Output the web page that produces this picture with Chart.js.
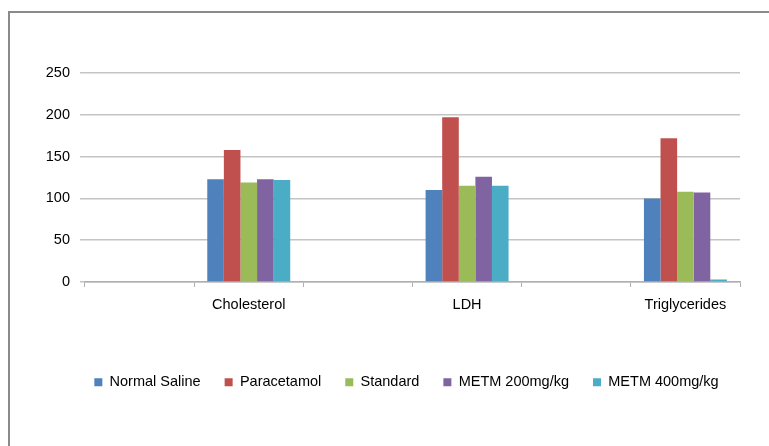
<!DOCTYPE html>
<html>
<head>
<meta charset="utf-8">
<script src="https://cdn.jsdelivr.net/npm/chart.js@4"></script>
<style>
  html, body { margin: 0; padding: 0; background: #fff; }
  canvas { display: block; }
</style>
</head>
<body>
<canvas id="grafico" width="769" height="446"></canvas>
<script>
const ctx = document.getElementById('grafico').getContext('2d');

// every other slot is left empty so the groups sit in alternate columns
const categorias = ['', 'Cholesterol', '', 'LDH', '', 'Triglycerides'];
const normalSaline = [null, 123, null, 110, null, 100];
const paracetamol = [null, 158, null, 197, null, 172];
const standard = [null, 119, null, 115, null, 108];
const metm200 = [null, 123, null, 126, null, 107];
const metm400 = [null, 122, null, 115, null, 3];
const ticksY = [0, 50, 100, 150, 200, 250];

const fuente = "'Liberation Sans', Arial, sans-serif";

// grey frame round the whole chart
const marco = {
  id: 'marco',
  beforeDraw(chart) {
    const c = chart.ctx;
    c.save();
    c.fillStyle = '#fff';
    c.fillRect(0, 0, chart.width, chart.height);
    c.fillStyle = '#8a8a8a';
    c.fillRect(8, 11, chart.width - 8, 2);
    c.fillRect(8, 11, 2, chart.height - 11);
    c.restore();
  }
};

// legend row sits roughly under the plot rather than the whole canvas
const moverLeyenda = {
  id: 'moverLeyenda',
  afterLayout(chart) {
    const area = chart.chartArea;
    const leg = chart.legend;
    const dx = (area.left + area.right) / 2 - 6 - (leg.left + leg.right) / 2;
    leg.left += dx;
    leg.right += dx;
  }
};

const myChart = new Chart(ctx, {
  type: 'bar',
  data: {
    labels: categorias,
    datasets: [
      { label: 'Normal Saline', data: normalSaline, backgroundColor: '#4F81BD' },
      { label: 'Paracetamol', data: paracetamol, backgroundColor: '#C0504D' },
      { label: 'Standard', data: standard, backgroundColor: '#9BBB59' },
      { label: 'METM 200mg/kg', data: metm200, backgroundColor: '#8064A2' },
      { label: 'METM 400mg/kg', data: metm400, backgroundColor: '#4BACC6' }
    ]
  },
  options: {
    responsive: false,
    animation: false,
    categoryPercentage: 0.76,
    barPercentage: 1,
    layout: { padding: { left: 40, right: 29, top: 73, bottom: 46.5 } },
    plugins: {
      tooltip: { enabled: false },
      legend: {
        position: 'bottom',
        labels: {
          boxWidth: 8,
          boxHeight: 8,
          padding: 24,
          color: '#000',
          font: { family: fuente, size: 14.5 }
        }
      }
    },
    scales: {
      x: {
        afterFit(scale) { scale.height = 69; },
        grid: { drawOnChartArea: false, drawTicks: true, tickLength: 5, color: '#b0b0b0' },
        border: { color: '#b0b0b0', width: 1.5 },
        ticks: { color: '#000', padding: 9, font: { family: fuente, size: 14.5 }, autoSkip: false, maxRotation: 0 }
      },
      y: {
        min: ticksY[0],
        max: ticksY[ticksY.length - 1],
        afterFit(scale) { scale.width = 45; },
        afterBuildTicks(scale) { scale.ticks = ticksY.map(v => ({ value: v })); },
        grid: { color: '#c4c4c4', lineWidth: 1.5, tickLength: 5 },
        border: { display: false },
        ticks: { color: '#000', padding: 10, font: { family: fuente, size: 14.5 } }
      }
    }
  },
  plugins: [marco, moverLeyenda]
});
</script>
</body>
</html>
